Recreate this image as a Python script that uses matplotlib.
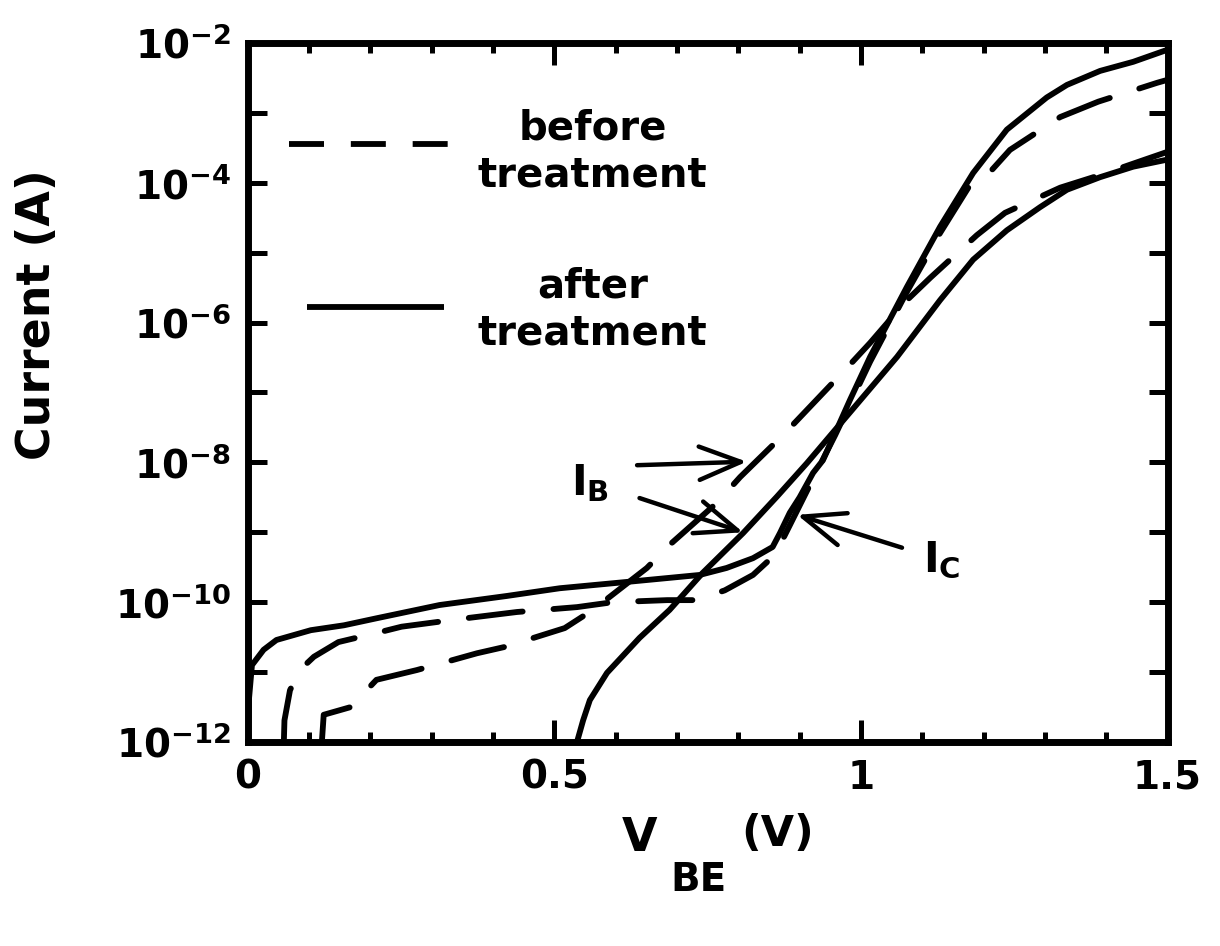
import numpy as np
import matplotlib
matplotlib.use('Agg')
import matplotlib.pyplot as plt
import matplotlib.ticker as mticker

plt.rcParams['font.family'] = 'DejaVu Sans'
plt.rcParams['font.weight'] = 'bold'
plt.rcParams['mathtext.default'] = 'bf'

# ---- data: V_BE (V) and log10 of current (A) ----
# I_C after treatment (solid, upper)
v_ic_after = [0.0, 0.002, 0.007, 0.026, 0.047, 0.103, 0.157, 0.210, 0.313, 0.423,
              0.509, 0.618, 0.737, 0.781, 0.824, 0.856, 0.868, 0.884, 0.900, 0.922,
              0.938, 0.982, 1.015, 1.075, 1.129, 1.183, 1.238, 1.303, 1.336, 1.390,
              1.444, 1.499]
log_ic_after = [-12.0, -11.40, -10.90, -10.68, -10.54, -10.40, -10.33, -10.23, -10.04, -9.91,
                -9.80, -9.71, -9.61, -9.51, -9.37, -9.21, -9.01, -8.72, -8.50, -8.15,
                -7.97, -7.11, -6.49, -5.49, -4.63, -3.86, -3.24, -2.78, -2.60, -2.40,
                -2.27, -2.10]

# I_B after treatment (solid, lower)
v_ib_after = [0.537, 0.547, 0.558, 0.586, 0.639, 0.688, 0.742, 0.808, 0.863, 0.912,
              1.059, 1.129, 1.183, 1.238, 1.292, 1.336, 1.390, 1.444, 1.499]
log_ib_after = [-12.0, -11.69, -11.40, -11.01, -10.51, -10.11, -9.58, -9.01, -8.49, -8.01,
                -6.49, -5.68, -5.10, -4.68, -4.35, -4.10, -3.92, -3.77, -3.67]

# I_C before treatment (dashed)
v_ic_before = [0.059, 0.060, 0.069, 0.085, 0.108, 0.148, 0.210, 0.251, 0.346, 0.439,
               0.537, 0.595, 0.684, 0.732, 0.778, 0.824, 0.860, 0.884, 0.917, 0.958,
               1.015, 1.075, 1.129, 1.178, 1.206, 1.243, 1.325, 1.387, 1.483, 1.499]
log_ic_before = [-12.0, -11.69, -11.26, -10.97, -10.78, -10.57, -10.44, -10.35, -10.24, -10.14,
                 -10.07, -10.00, -9.97, -9.97, -9.83, -9.61, -9.32, -8.90, -8.32, -7.61,
                 -6.56, -5.56, -4.72, -4.03, -3.89, -3.53, -3.06, -2.84, -2.57, -2.53]

# I_B before treatment (dashed)
v_ib_before = [0.121, 0.124, 0.168, 0.210, 0.243, 0.276, 0.374, 0.419, 0.517, 0.563,
               0.651, 0.688, 0.765, 0.803, 0.873, 0.912, 0.977, 1.015, 1.075, 1.113,
               1.189, 1.235, 1.325, 1.390, 1.499]
log_ib_before = [-12.0, -11.61, -11.50, -11.11, -11.04, -10.97, -10.73, -10.64, -10.37, -10.11,
                 -9.51, -9.18, -8.58, -8.21, -7.61, -7.25, -6.65, -6.29, -5.68, -5.36,
                 -4.75, -4.43, -4.07, -3.89, -3.56]

x_ticks = [0, 0.5, 1, 1.5]
x_ticklabels = ['0', '0.5', '1', '1.5']
y_exponents = [-12, -10, -8, -6, -4, -2]

# ---- figure ----
fig = plt.figure(figsize=(12.2, 9.46), dpi=100)
ax = fig.add_axes([0.203, 0.2156, 0.754, 0.739])

lw = 4.2
dash = (9.3, 5.3)

def cur(logs):
    return 10.0 ** np.array(logs)

ax.plot(v_ic_after, cur(log_ic_after), color='black', lw=lw, solid_capstyle='round',
        solid_joinstyle='round')
ax.plot(v_ib_after, cur(log_ib_after), color='black', lw=lw, solid_capstyle='round',
        solid_joinstyle='round')
ax.plot(v_ic_before, cur(log_ic_before), color='black', lw=lw, dashes=dash,
        dash_capstyle='round', dash_joinstyle='round')
ax.plot(v_ib_before, cur(log_ib_before), color='black', lw=lw, dashes=dash,
        dash_capstyle='round', dash_joinstyle='round')

ax.set_yscale('log')
ax.set_xlim(0, 1.5)
ax.set_ylim(1e-12, 1e-2)

ax.set_xticks(x_ticks)
ax.set_xticklabels(x_ticklabels)
ax.xaxis.set_minor_locator(mticker.MultipleLocator(0.1))
ax.yaxis.set_minor_locator(mticker.NullLocator())
ax.set_yticks([10.0 ** e for e in range(-12, -1)])
ax.set_yticklabels(['$\\mathbf{10^{%d}}$' % e if e in y_exponents else ''
                    for e in range(-12, -1)])

ax.tick_params(axis='both', which='both', direction='in', top=True, right=True,
               width=3.6, labelsize=28, colors='black')
ax.tick_params(axis='x', which='major', length=16, pad=12)
ax.tick_params(axis='x', which='minor', length=7)
ax.tick_params(axis='y', which='major', length=14, pad=12)
for s in ax.spines.values():
    s.set_linewidth(5)

# legend keys drawn by hand
ax.plot([0.045, 0.225], [0.855, 0.855], transform=ax.transAxes, color='black',
        lw=lw, dashes=(6.0, 4.6), dash_capstyle='butt')
ax.plot([0.064, 0.213], [0.623, 0.623], transform=ax.transAxes, color='black',
        lw=lw, solid_capstyle='butt')
ax.text(0.375, 0.844, 'before\ntreatment', transform=ax.transAxes, ha='center',
        va='center', fontsize=29, fontweight='bold', linespacing=1.2)
ax.text(0.375, 0.618, 'after\ntreatment', transform=ax.transAxes, ha='center',
        va='center', fontsize=29, fontweight='bold', linespacing=1.2)

# annotations
arrow = dict(arrowstyle='->,head_length=1.0,head_width=0.4', lw=3.2,
             color='black', shrinkA=0, shrinkB=0, mutation_scale=30)
ax.annotate('', xy=(0.814, 10 ** -7.99), xytext=(0.635, 10 ** -8.04), arrowprops=arrow)
ax.annotate('', xy=(0.808, 10 ** -9.00), xytext=(0.639, 10 ** -8.51), arrowprops=arrow)
ax.annotate('', xy=(0.896, 10 ** -8.75), xytext=(1.067, 10 ** -9.22), arrowprops=arrow)
ax.text(0.558, 10 ** -8.29, '$\\mathbf{I_B}$', fontsize=30, ha='center', va='center')
ax.text(1.132, 10 ** -9.40, '$\\mathbf{I_C}$', fontsize=30, ha='center', va='center')

fig.text(0.031, 1 - 315 / 946, 'Current (A)', rotation=90, ha='center', va='center',
         fontsize=33, fontweight='bold')
fig.text(640 / 1220, 1 - 838 / 946, 'V', ha='center', va='center',
         fontsize=33, fontweight='bold')
fig.text(698 / 1220, 1 - 880 / 946, 'BE', ha='center', va='center',
         fontsize=28, fontweight='bold')
fig.text(778 / 1220, 1 - 834 / 946, '(V)', ha='center', va='center',
         fontsize=31, fontweight='bold')

fig.savefig('out.png', dpi=100, facecolor='white')
